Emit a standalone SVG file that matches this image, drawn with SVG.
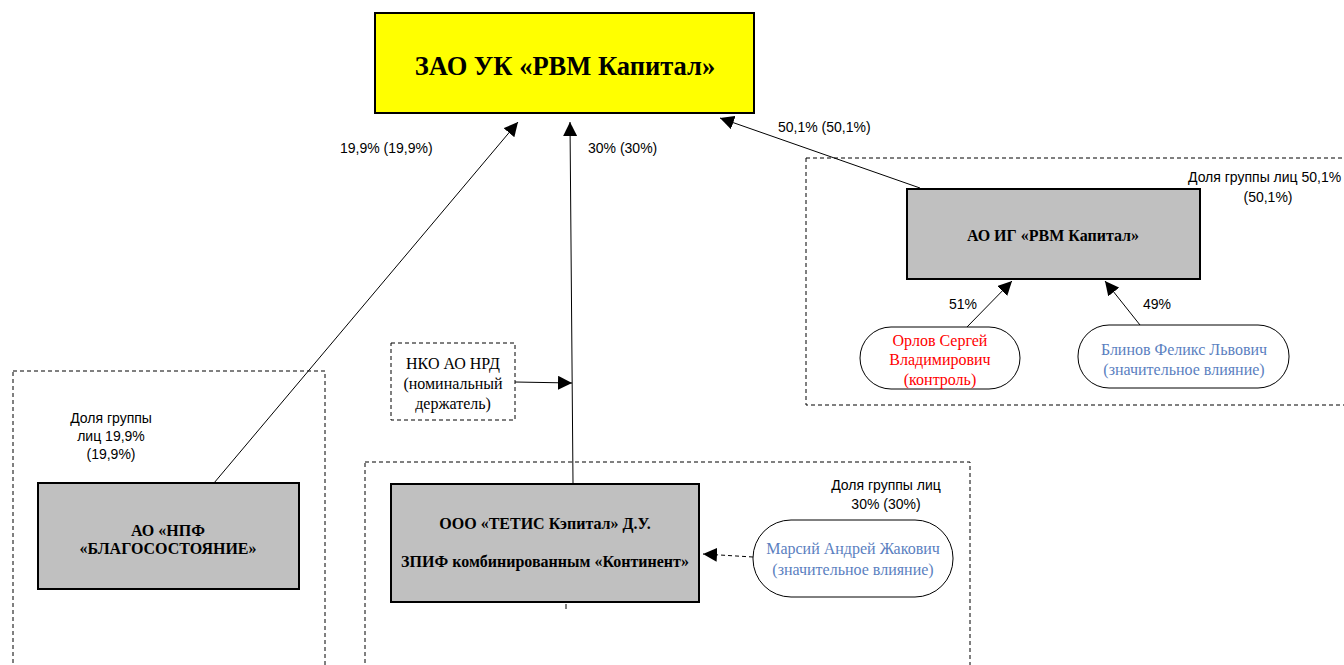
<svg xmlns="http://www.w3.org/2000/svg" width="1344" height="665" viewBox="0 0 1344 665">
<defs>
<marker id="ah" viewBox="0 0 10 10" refX="10" refY="5" markerWidth="14" markerHeight="14" markerUnits="userSpaceOnUse" orient="auto"><path d="M0,0 L10,5 L0,10 z" fill="#000"/></marker>
<style>
.grp{fill:none;stroke:#000;stroke-width:1;stroke-dasharray:4 3}
.box{fill:#C0C0C0;stroke:#000;stroke-width:2}
.pill{fill:#fff;stroke:#000;stroke-width:1}
.bt{font-family:"Liberation Serif","Times New Roman","DejaVu Serif",serif;font-weight:bold;font-size:16px;text-anchor:middle;fill:#000}
.st{font-family:"Liberation Serif","Times New Roman","DejaVu Serif",serif;font-size:16px;text-anchor:middle}
.lb{font-family:"Liberation Sans",sans-serif;font-size:14px;fill:#000}
.c{stroke:#000;stroke-width:1;fill:none}
</style>
</defs>
<rect width="1344" height="665" fill="#fff"/>

<g id="groups">
<rect class="grp" x="806" y="158" width="560" height="247"/>
<rect class="grp" x="13" y="371" width="312" height="310"/>
<rect class="grp" x="365" y="462" width="605" height="220"/>
</g>

<g id="connectors">
<line class="c" x1="214" y1="483" x2="518" y2="122" marker-end="url(#ah)"/>
<line class="c" x1="573" y1="483" x2="570" y2="122" marker-end="url(#ah)"/>
<line class="c" x1="920" y1="188" x2="720" y2="118" marker-end="url(#ah)"/>
<line class="c" x1="967" y1="327" x2="1012" y2="281" marker-end="url(#ah)"/>
<line class="c" x1="1140" y1="325" x2="1105" y2="281" marker-end="url(#ah)"/>
<line class="c" x1="515" y1="382" x2="572" y2="383" marker-end="url(#ah)"/>
<line class="c" x1="753" y1="557" x2="703" y2="554" stroke-dasharray="4 3" marker-end="url(#ah)"/>
<line class="c" x1="566" y1="604" x2="566" y2="609"/>
<text class="lb" x="340" y="153">19,9% (19,9%)</text>
<text class="lb" x="588" y="153">30% (30%)</text>
<text class="lb" x="778" y="132">50,1% (50,1%)</text>
<text class="lb" x="949" y="309">51%</text>
<text class="lb" x="1143" y="309">49%</text>
</g>

<g id="labels">
<text class="lb" x="1188" y="182">Доля группы лиц 50,1%</text>
<text class="lb" x="1268" y="202" text-anchor="middle">(50,1%)</text>
<text class="lb" x="111" y="423" text-anchor="middle">Доля группы</text>
<text class="lb" x="111" y="441" text-anchor="middle">лиц 19,9%</text>
<text class="lb" x="111" y="459" text-anchor="middle">(19,9%)</text>
<text class="lb" x="886" y="490" text-anchor="middle">Доля группы лиц</text>
<text class="lb" x="886" y="509" text-anchor="middle">30% (30%)</text>
</g>

<g id="n-zao">
<rect x="375" y="13" width="379" height="100" fill="#FFFF00" stroke="#000" stroke-width="2"/>
<text x="565" y="75" font-family="'Liberation Serif','Times New Roman','DejaVu Serif',serif" font-weight="bold" font-size="26.5" text-anchor="middle">ЗАО УК «РВМ Капитал»</text>
</g>

<g id="n-aoig">
<rect class="box" x="907" y="189" width="293" height="90"/>
<text class="bt" x="1053" y="241">АО ИГ «РВМ Капитал»</text>
</g>

<g id="n-orlov">
<rect class="pill" x="860" y="327" width="160" height="62" rx="31" ry="31"/>
<text class="st" fill="#FF0000"><tspan x="940" y="346">Орлов Сергей</tspan><tspan x="940" y="365">Владимирович</tspan><tspan x="940" y="385">(контроль)</tspan></text>
</g>

<g id="n-blinov">
<rect class="pill" x="1078" y="325" width="211" height="63" rx="31" ry="31"/>
<text class="st" fill="#5B7FBF"><tspan x="1184" y="355">Блинов Феликс Львович</tspan><tspan x="1184" y="375">(значительное влияние)</tspan></text>
</g>

<g id="n-npf">
<rect class="box" x="38" y="483" width="261" height="106"/>
<text class="bt"><tspan x="168" y="536">АО «НПФ</tspan><tspan x="168" y="554">«БЛАГОСОСТОЯНИЕ»</tspan></text>
</g>

<g id="n-nko">
<rect x="391" y="343" width="124" height="77" fill="#fff" stroke="#000" stroke-width="1" stroke-dasharray="4 3"/>
<text class="st" fill="#000"><tspan x="453" y="369">НКО АО НРД</tspan><tspan x="453" y="389">(номинальный</tspan><tspan x="453" y="409">держатель)</tspan></text>
</g>

<g id="n-tetis">
<rect class="box" x="391" y="484" width="308" height="118"/>
<text class="bt"><tspan x="545" y="529">ООО «ТЕТИС Кэпитал» Д.У.</tspan><tspan x="545" y="567">ЗПИФ комбинированным «Континент»</tspan></text>
</g>

<g id="n-marsiy">
<rect class="pill" x="753" y="520" width="200" height="77" rx="38" ry="38"/>
<text class="st" fill="#5B7FBF"><tspan x="853" y="554">Марсий Андрей Жакович</tspan><tspan x="853" y="575">(значительное влияние)</tspan></text>
</g>
</svg>
